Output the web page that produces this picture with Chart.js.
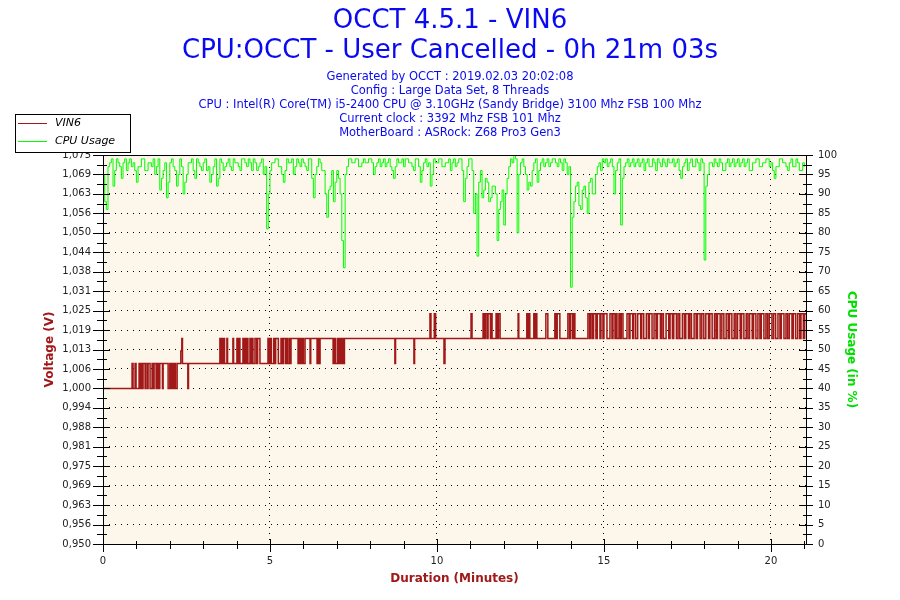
<!DOCTYPE html>
<html>
<head>
<meta charset="utf-8">
<title>OCCT 4.5.1 - VIN6</title>
<script src="https://cdn.jsdelivr.net/npm/chart.js@4/dist/chart.umd.min.js"></script>
<style>
  body { margin: 0; background: #fff; }
  canvas { display: block; }
</style>
</head>
<body>
<canvas id="occt_chart" width="900" height="600"></canvas>
<script>
//-----------------------------------------------DATA-----------------------------------------------//
// voltage: each entry holds from its time (minutes) until the next one
var voltTime = [0.00,
  0.87,0.90,0.96,0.99,1.08,1.11,1.14,1.17,1.20,1.26,1.28,1.33,1.35,1.41,1.47,1.50,1.53,1.59,1.62,1.66,
  1.70,1.78,1.80,1.95,2.00,2.04,2.07,2.11,2.14,2.17,2.22,2.33,2.36,2.38,2.54,2.56,
  3.50,3.53,3.55,3.58,3.60,3.64,3.71,3.73,3.89,3.91,4.01,4.04,4.06,4.10,4.19,4.22,4.24,4.28,4.30,4.34,
  4.40,4.43,4.46,4.49,4.55,4.60,4.63,4.70,4.94,4.97,5.00,5.04,5.11,5.14,5.17,5.25,5.33,5.37,5.40,5.46,
  5.49,5.52,5.57,5.60,5.63,
  5.84,5.88,5.92,5.96,6.00,6.05,6.20,6.22,6.41,6.44,6.47,6.50,6.89,6.93,6.97,7.03,7.06,7.10,7.13,7.17,
  7.19,7.23,8.74,8.76,9.31,9.33,9.79,9.82,9.92,9.96,10.21,10.24,
  11.02,11.05,11.38,11.42,11.45,11.50,11.53,11.60,11.62,11.65,11.77,11.81,11.84,11.89,12.43,12.45,
  12.69,12.72,12.75,12.78,12.90,12.93,12.96,12.99,13.26,13.32,13.53,13.57,13.60,13.68,13.92,13.97,
  14.00,14.06,14.09,14.13,14.52,14.57,14.61,14.66,14.69,14.76,14.80,14.88,14.91,14.97,15.00,15.09,
  15.18,15.24,15.27,15.33,15.36,15.39,15.45,15.49,15.52,15.57,15.69,15.75,15.78,15.86,15.89,
  15.95,16.01,16.10,16.13,16.19,16.27,16.33,16.36,16.44,16.50,16.56,16.60,16.69,16.73,16.78,16.86,
  16.94,16.98,17.05,17.09,17.17,17.22,17.27,17.35,17.41,17.45,17.53,17.57,17.62,17.70,17.76,17.80,
  17.88,17.93,17.99,18.05,18.13,18.17,18.24,18.31,18.36,18.40,18.48,18.53,18.59,18.66,18.72,18.76,
  18.83,18.90,18.95,19.00,19.08,19.12,19.19,19.26,19.31,19.36,19.44,19.48,19.55,19.61,19.67,19.71,
  19.79,19.85,19.90,19.95,20.03,20.08,20.14,20.21,20.27,20.31,20.39,20.45,20.50,20.55,20.63,20.67,
  20.74,20.80,20.86,20.90,20.97,21.01,21.05];
var voltLevel = [1.000,
  1.008,1.000,1.008,1.000,1.008,1.000,1.008,1.000,1.008,1.000,1.008,1.000,1.008,1.000,1.008,1.000,1.008,1.000,1.008,1.000,
  1.008,1.000,1.008,1.000,1.008,1.000,1.008,1.000,1.008,1.000,1.008,1.012,1.016,1.008,1.000,1.008,
  1.016,1.008,1.016,1.008,1.016,1.008,1.016,1.008,1.016,1.008,1.016,1.008,1.016,1.008,1.016,1.008,1.016,1.008,1.016,1.008,
  1.016,1.008,1.016,1.008,1.016,1.008,1.016,1.008,1.016,1.008,1.016,1.008,1.016,1.008,1.016,1.008,1.016,1.008,1.016,1.008,
  1.016,1.008,1.016,1.008,1.016,
  1.008,1.016,1.008,1.016,1.008,1.016,1.008,1.016,1.008,1.016,1.008,1.016,1.008,1.016,1.008,1.016,1.008,1.016,1.008,1.016,
  1.008,1.016,1.008,1.016,1.008,1.016,1.024,1.016,1.024,1.016,1.008,1.016,
  1.024,1.016,1.024,1.016,1.024,1.016,1.024,1.016,1.024,1.016,1.024,1.016,1.024,1.016,1.024,1.016,
  1.024,1.016,1.024,1.016,1.024,1.016,1.024,1.016,1.024,1.016,1.024,1.016,1.024,1.016,1.024,1.016,
  1.024,1.016,1.024,1.016,1.024,1.016,1.024,1.016,1.024,1.016,1.024,1.016,1.024,1.016,1.024,1.016,
  1.024,1.016,1.024,1.016,1.024,1.016,1.024,1.016,1.024,1.016,1.024,1.016,1.024,1.016,1.024,
  1.016,1.024,1.016,1.024,1.016,1.024,1.016,1.024,1.016,1.024,1.016,1.024,1.016,1.024,1.016,1.024,
  1.016,1.024,1.016,1.024,1.016,1.024,1.016,1.024,1.016,1.024,1.016,1.024,1.016,1.024,1.016,1.024,
  1.016,1.024,1.016,1.024,1.016,1.024,1.016,1.024,1.016,1.024,1.016,1.024,1.016,1.024,1.016,1.024,
  1.016,1.024,1.016,1.024,1.016,1.024,1.016,1.024,1.016,1.024,1.016,1.024,1.016,1.024,1.016,1.024,
  1.016,1.024,1.016,1.024,1.016,1.024,1.016,1.024,1.016,1.024,1.016,1.024,1.016,1.024,1.016,1.024,
  1.016,1.024,1.016,1.024,1.016,1.024,1.024];

// cpu usage in %, one reading every 0.05 minute from 0.00 to 21.00 (one row per minute)
var cpuStep = 0.05;
var cpuUsage = [
  95,88,86,97,98,99,92,96,99,98,97,94,98,99,96,98,99,97,98,96,
  93,97,97,99,99,96,96,98,98,97,99,95,97,99,91,94,96,98,89,93,
  98,99,97,96,92,95,99,97,90,93,95,98,98,99,96,94,99,98,97,96,
  98,99,96,97,93,95,97,99,92,94,99,98,96,97,98,99,97,96,99,98,
  98,97,96,99,99,98,97,99,98,96,99,98,96,97,98,99,95,97,81,90,
  96,98,98,99,99,97,97,95,93,96,99,98,98,99,95,97,99,98,97,99,
  98,97,96,99,99,94,89,95,97,99,98,96,96,90,84,91,92,96,88,93,
  96,94,90,78,71,95,97,99,99,98,98,99,99,97,97,98,99,98,98,99,
  99,98,95,97,98,99,97,98,99,97,98,99,97,96,94,97,99,98,98,99,
  97,99,99,98,98,97,96,99,99,97,93,96,98,99,97,98,92,95,99,98,
  98,99,99,97,97,98,98,99,96,98,99,97,98,99,99,96,88,94,97,99,
  99,96,85,90,74,93,96,89,91,94,93,88,89,92,92,90,78,86,88,91,
  82,90,94,97,99,98,100,99,80,95,98,99,97,95,91,93,92,96,98,99,
  93,96,98,99,97,98,99,97,98,99,99,98,97,99,98,96,99,98,95,97,
  66,84,88,92,93,87,86,91,92,89,85,93,94,90,90,95,97,98,96,99,
  98,99,97,98,99,97,90,96,98,99,82,94,97,98,99,97,98,99,97,98,
  99,97,98,99,96,98,99,97,97,99,98,96,99,98,97,99,98,97,99,98,
  98,99,97,98,99,96,94,97,98,99,96,98,99,97,97,99,98,96,99,98,
  73,92,95,98,98,97,99,98,97,99,98,96,96,98,99,97,98,99,97,98,
  99,97,98,99,97,98,99,96,96,98,98,99,99,97,97,98,98,99,99,97,
  98,96,94,97,97,99,99,98,98,97,96,98,99,97,97,99,98,96,96,98,
  97];

var minuteTicks = [0, 5, 10, 15, 20];
var voltTicks = [0.950,0.95625,0.9625,0.96875,0.975,0.98125,0.9875,0.99375,1.000,1.00625,1.0125,
  1.01875,1.025,1.03125,1.0375,1.04375,1.050,1.05625,1.0625,1.06875,1.075];
var voltTickLabels = ['0,950','0,956','0,963','0,969','0,975','0,981','0,988','0,994','1,000','1,006','1,013',
  '1,019','1,025','1,031','1,038','1,044','1,050','1,056','1,063','1,069','1,075'];
var cpuTicks = [0,5,10,15,20,25,30,35,40,45,50,55,60,65,70,75,80,85,90,95,100];

var titleLines = ['OCCT 4.5.1 - VIN6', 'CPU:OCCT - User Cancelled - 0h 21m 03s'];
var infoLines = [
  'Generated by OCCT : 2019.02.03 20:02:08',
  'Config : Large Data Set, 8 Threads',
  'CPU : Intel(R) Core(TM) i5-2400 CPU @ 3.10GHz (Sandy Bridge) 3100 Mhz FSB 100 Mhz',
  'Current clock : 3392 Mhz FSB 101 Mhz',
  'MotherBoard : ASRock: Z68 Pro3 Gen3'
];

var RED = '#A01818';
var GREEN = '#00FF00';
var BLUE = '#0A0AF0';
var FONT = '"DejaVu Sans", Verdana, sans-serif';

//-----------------------------------------------DECOR PLUGIN-----------------------------------------------//
// background, frame, minor ticks, titles, axis titles and the boxed legend
const occtDecor = {
    id: 'occtDecor',
    beforeDraw(chart) {
        const c = chart.ctx, a = chart.chartArea;
        c.save();
        c.fillStyle = '#fff';
        c.fillRect(0, 0, chart.width, chart.height);
        c.fillStyle = '#FDF6EA';
        c.fillRect(a.left, a.top, a.right - a.left, a.bottom - a.top);
        c.restore();
    },
    afterDraw(chart) {
        const c = chart.ctx, a = chart.chartArea;
        const sx = chart.scales.x, sv = chart.scales.yV, sc = chart.scales.yC;
        c.save();
        c.strokeStyle = '#000';
        c.lineWidth = 1;
        c.strokeRect(Math.round(a.left) + 0.5, Math.round(a.top) + 0.5,
            Math.round(a.right - a.left), Math.round(a.bottom - a.top));

        c.beginPath();
        // left axis ticks
        for (let i = 0; i < voltTicks.length; i++) {
            let y = Math.round(sv.getPixelForValue(voltTicks[i])) + 0.5;
            c.moveTo(a.left - 10, y); c.lineTo(a.left + 7, y);
            if (i < voltTicks.length - 1) {
                let ym = Math.round(sv.getPixelForValue((voltTicks[i] + voltTicks[i + 1]) / 2)) + 0.5;
                c.moveTo(a.left - 6, ym); c.lineTo(a.left + 4, ym);
            }
        }
        // right axis ticks
        for (let i = 0; i < cpuTicks.length; i++) {
            let y = Math.round(sc.getPixelForValue(cpuTicks[i])) + 0.5;
            c.moveTo(a.right - 7, y); c.lineTo(a.right + 7, y);
            if (i < cpuTicks.length - 1) {
                let ym = Math.round(sc.getPixelForValue(cpuTicks[i] + 2.5)) + 0.5;
                c.moveTo(a.right - 3, ym); c.lineTo(a.right + 6, ym);
            }
        }
        // bottom axis ticks, minor every minute
        for (let m = 0; m <= 21; m++) {
            let x = Math.round(sx.getPixelForValue(m)) + 0.5;
            if (minuteTicks.indexOf(m) >= 0) { c.moveTo(x, a.bottom - 5); c.lineTo(x, a.bottom + 8); }
            else { c.moveTo(x, a.bottom - 3); c.lineTo(x, a.bottom + 5); }
        }
        c.stroke();

        // titles
        c.textAlign = 'center';
        c.textBaseline = 'middle';
        c.fillStyle = BLUE;
        c.font = '26px ' + FONT;
        c.fillText(titleLines[0], 450, 21);
        c.fillText(titleLines[1], 450, 51);
        c.font = '11.5px ' + FONT;
        for (let i = 0; i < infoLines.length; i++) c.fillText(infoLines[i], 450, 77 + i * 14);

        // axis titles
        c.font = 'bold 12px ' + FONT;
        c.fillStyle = RED;
        c.fillText('Duration (Minutes)', (a.left + a.right) / 2, 579);
        c.save();
        c.translate(50, (a.top + a.bottom) / 2);
        c.rotate(-Math.PI / 2);
        c.fillText('Voltage (V)', 0, 0);
        c.restore();
        c.save();
        c.translate(851, (a.top + a.bottom) / 2);
        c.rotate(Math.PI / 2);
        c.fillStyle = '#00E000';
        c.fillText('CPU Usage (in %)', 0, 0);
        c.restore();

        // legend box
        c.fillStyle = '#fff';
        c.fillRect(15, 114, 115, 38);
        c.strokeStyle = '#000';
        c.strokeRect(15.5, 114.5, 115, 38);
        c.textAlign = 'left';
        c.font = 'italic 11px ' + FONT;
        chart.data.datasets.forEach(function (ds, i) {
            let y = 123.5 + i * 18;
            c.strokeStyle = ds.borderColor;
            c.beginPath(); c.moveTo(18, y); c.lineTo(47, y); c.stroke();
            c.fillStyle = '#000';
            c.fillText(ds.label, 55, y);
        });
        c.restore();
    }
};

//-----------------------------------------------CHART-----------------------------------------------//
const CANVAS = document.getElementById('occt_chart');
const tickFont = { family: FONT, size: 10 };

let occtChart = new Chart(CANVAS, {
    type: 'line',
    data: {
        datasets: [
            {
                label: 'VIN6',
                data: voltTime.map(function (t, i) { return { x: t, y: voltLevel[i] }; }),
                borderColor: RED,
                borderWidth: 1.5,
                pointRadius: 0,
                stepped: true,
                yAxisID: 'yV'
            },
            {
                label: 'CPU Usage',
                data: cpuUsage.map(function (v, i) { return { x: Math.round(i * cpuStep * 100) / 100, y: v }; }),
                borderColor: GREEN,
                borderWidth: 1,
                pointRadius: 0,
                stepped: true,
                yAxisID: 'yC'
            }
        ]
    },
    options: {
        responsive: false,
        animation: false,
        devicePixelRatio: 1,
        layout: { padding: { top: 155, left: 0, right: 0, bottom: 0 } },
        plugins: { legend: { display: false }, tooltip: { enabled: false } },
        scales: {
            x: {
                type: 'linear', min: 0, max: 21.05,
                afterBuildTicks: function (s) { s.ticks = minuteTicks.map(function (v) { return { value: v }; }); },
                afterFit: function (s) { s.height = 56; },
                grid: { color: '#000', lineWidth: 1, drawTicks: false },
                border: { display: false, dash: [1, 5] },
                ticks: { padding: 11, color: '#222', font: tickFont, maxRotation: 0, autoSkip: false }
            },
            yV: {
                position: 'left', min: 0.95, max: 1.075,
                afterBuildTicks: function (s) { s.ticks = voltTicks.map(function (v) { return { value: v }; }); },
                afterFit: function (s) { s.width = 103; },
                grid: { color: '#000', lineWidth: 1, drawTicks: false },
                border: { display: false, dash: [1, 5] },
                ticks: {
                    padding: 12, color: '#222', font: tickFont, autoSkip: false,
                    callback: function (v, i) { return voltTickLabels[i]; }
                }
            },
            yC: {
                position: 'right', min: 0, max: 100,
                afterBuildTicks: function (s) { s.ticks = cpuTicks.map(function (v) { return { value: v }; }); },
                afterFit: function (s) { s.width = 94; },
                grid: { display: false, drawTicks: false },
                border: { display: false },
                ticks: { padding: 12, color: '#222', font: tickFont, autoSkip: false }
            }
        }
    },
    plugins: [occtDecor]
});
</script>
</body>
</html>
